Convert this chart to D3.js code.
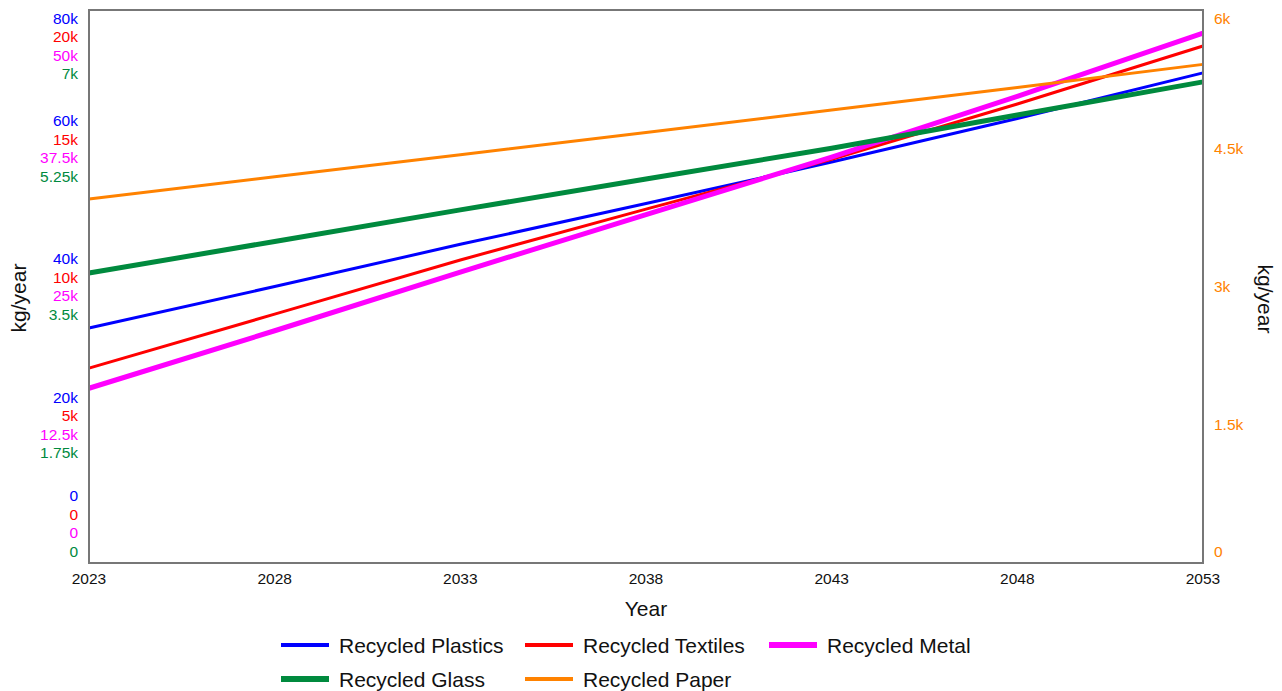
<!DOCTYPE html>
<html>
<head>
<meta charset="utf-8">
<script src="https://cdn.jsdelivr.net/npm/d3@7"></script>
<style>
  html, body { margin: 0; padding: 0; background: #fff; }
  svg { display: block; font-family: "Liberation Sans", Arial, sans-serif; }
</style>
</head>
<body>
<svg id="chart" width="1282" height="691"></svg>
<script>
// ---- data ----
const years = [2023, 2028, 2033, 2038, 2043, 2048, 2053];
const plastics = [34000, 40000, 46100, 52000, 58000, 64300, 70900];
const textiles = [7050, 9000, 10960, 12800, 14600, 16600, 18700];
const metal = [15800, 21000, 26300, 31500, 36700, 42200, 47900];
const glass = [3670, 4070, 4470, 4860, 5250, 5670, 6090];
const paper = [3950, 4190, 4430, 4670, 4915, 5160, 5410];

const seriesNames = ["Recycled Plastics", "Recycled Textiles", "Recycled Metal", "Recycled Glass", "Recycled Paper"];
const seriesColors = ["#0000ff", "#ff0000", "#ff00ff", "#008a3e", "#ff8200"];
const seriesWidths = [3, 3, 5, 5, 3];
const axisMax = [80000, 20000, 50000, 7000, 6000];
const xTicks = [2023, 2028, 2033, 2038, 2043, 2048, 2053];
const tickFractions = [0, 0.25, 0.5, 0.75, 1];

const seriesValues = [plastics, textiles, metal, glass, paper];

// ---- layout ----
const svg = d3.select("#chart");
const pLeft = 89, pRight = 1203, pTop = 10, pBottom = 563;

const x = d3.scaleLinear().domain([2023, 2053]).range([pLeft, pRight]);
const yScales = axisMax.map(m => d3.scaleLinear().domain([0, m]).range([pBottom, pTop]));

const fmt = v => v === 0 ? "0" : (v / 1000) + "k";

// lines
const lineGen = (ys) => d3.line().x((d, i) => x(years[i])).y(d => ys(d));
seriesValues.forEach((vals, s) => {
  svg.append("path")
    .datum(vals)
    .attr("d", lineGen(yScales[s]))
    .attr("fill", "none")
    .attr("stroke", seriesColors[s])
    .attr("stroke-width", seriesWidths[s]);
});

// frame
svg.append("rect")
  .attr("x", pLeft).attr("y", pTop)
  .attr("width", pRight - pLeft).attr("height", pBottom - pTop)
  .attr("fill", "none").attr("stroke", "#777").attr("stroke-width", 2);

// x axis labels
svg.append("g").selectAll("text").data(xTicks).join("text")
  .attr("x", d => x(d)).attr("y", 578)
  .attr("text-anchor", "middle").attr("dominant-baseline", "central")
  .attr("font-size", 15.5).attr("fill", "#111")
  .text(d => d);

svg.append("text").attr("x", 646).attr("y", 608)
  .attr("text-anchor", "middle").attr("dominant-baseline", "central")
  .attr("font-size", 21).attr("fill", "#111").text("Year");

// left stacked axes (first four series)
const gap = 18.5;
const leftAxes = [0, 1, 2, 3];
tickFractions.forEach(f => {
  let c = yScales[0](axisMax[0] * f);
  c = Math.max(18 + 1.5 * gap, Math.min(551 - 1.5 * gap, c));
  leftAxes.forEach((s, k) => {
    svg.append("text")
      .attr("x", 78).attr("y", c + (k - 1.5) * gap)
      .attr("text-anchor", "end").attr("dominant-baseline", "central")
      .attr("font-size", 15.5).attr("fill", seriesColors[s])
      .text(fmt(axisMax[s] * f));
  });
});

// right axis (paper)
const yr = yScales[4];
svg.append("g").selectAll("text").data(tickFractions.map(f => axisMax[4] * f)).join("text")
  .attr("x", 1214)
  .attr("y", d => Math.max(18, Math.min(551, yr(d))))
  .attr("text-anchor", "start").attr("dominant-baseline", "central")
  .attr("font-size", 15.5).attr("fill", seriesColors[4])
  .text(fmt);

// axis titles
svg.append("text").attr("transform", "translate(18,298) rotate(-90)")
  .attr("text-anchor", "middle").attr("dominant-baseline", "central")
  .attr("font-size", 21).attr("fill", "#111").text("kg/year");
svg.append("text").attr("transform", "translate(1265,299) rotate(90)")
  .attr("text-anchor", "middle").attr("dominant-baseline", "central")
  .attr("font-size", 21).attr("fill", "#111").text("kg/year");

// legend
const legendPos = [[281, 645], [525, 645], [769, 645], [281, 679], [525, 679]];
seriesNames.forEach((name, s) => {
  const [lx, ly] = legendPos[s];
  svg.append("line")
    .attr("x1", lx).attr("x2", lx + 48).attr("y1", ly).attr("y2", ly)
    .attr("stroke", seriesColors[s]).attr("stroke-width", seriesWidths[s] + 1);
  svg.append("text")
    .attr("x", lx + 58).attr("y", ly)
    .attr("dominant-baseline", "central")
    .attr("font-size", 21).attr("fill", "#111").text(name);
});
</script>
</body>
</html>
